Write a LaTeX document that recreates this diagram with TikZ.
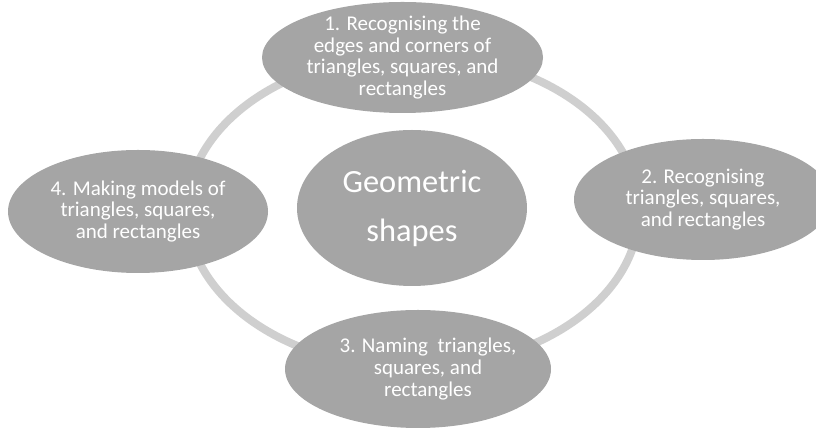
\documentclass[tikz,border=0pt]{standalone}
\usepackage{fontspec}
\setmainfont{Carlito}
\usetikzlibrary{shapes.geometric}
\definecolor{nodegray}{HTML}{A5A5A5}
\definecolor{ringgray}{HTML}{CFCFCF}
\begin{document}
\begin{tikzpicture}[x=1pt,y=1pt,
  blob/.style={ellipse, fill=nodegray, draw=none, inner sep=0pt, outer sep=0pt},
  txt/.style={text=white, align=center, inner sep=0pt, font=\fontsize{21}{21.6}\selectfont},
  bigtxt/.style={text=white, align=center, inner sep=0pt, font=\fontsize{32.4}{49}\selectfont},
  ring/.style={draw=ringgray, line width=8pt}]
\useasboundingbox (0,0) rectangle (816,430);
% ring connectors (ends hidden under the step ellipses)
\coordinate (q1) at (413,376);
\coordinate (q2) at (639,219);
\coordinate (q3) at (413,62);
\coordinate (q4) at (187,219);
\draw[ring] (q1) arc[start angle=90, end angle=0, x radius=226pt, y radius=157pt];
\draw[ring] (q2) arc[start angle=0, end angle=-90, x radius=226pt, y radius=157pt];
\draw[ring] (q3) arc[start angle=-90, end angle=-180, x radius=226pt, y radius=157pt];
\draw[ring] (q4) arc[start angle=180, end angle=90, x radius=226pt, y radius=157pt];
% nodes
\node[blob, minimum width=230pt, minimum height=156pt,
  label={[bigtxt]center:{Geometric\\shapes}}] (hub) at (412,222) {};
\node[blob, minimum width=281pt, minimum height=111pt,
  label={[txt]center:{1. Recognising the\\edges and corners of\\triangles, squares, and\\rectangles}}] (s1) at (402.5,372.5) {};
\node[blob, minimum width=258pt, minimum height=121pt,
  label={[txt]center:{2. Recognising\\triangles, squares,\\and rectangles}}] (s2) at (703,230.5) {};
\node[blob, minimum width=266pt, minimum height=118pt,
  label={[txt,xshift=10pt]center:{3. Naming\ \ triangles,\\squares, and\\rectangles}}] (s3) at (418,61) {};
\node[blob, minimum width=260pt, minimum height=123pt,
  label={[txt]center:{4. Making models of\\triangles, squares,\\and rectangles}}] (s4) at (138,218.5) {};
\end{tikzpicture}
\end{document}
